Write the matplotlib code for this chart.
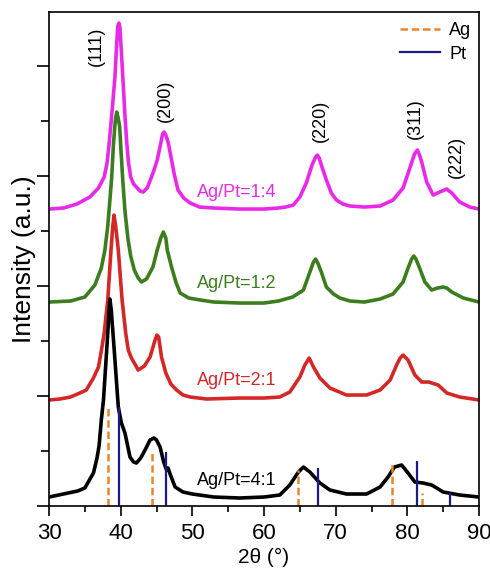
import matplotlib

matplotlib.use("Agg")
import matplotlib.pyplot as plt
from matplotlib.lines import Line2D
from matplotlib.ticker import MultipleLocator

plt.rcParams["font.family"] = ["Liberation Sans", "DejaVu Sans"]

# stacked XRD patterns, intensity in a.u. (offsets included)
x_14 = [30.0, 32.0, 33.9, 35.7, 36.9, 37.7, 38.1, 38.4, 38.8, 39.2, 39.45, 39.6, 39.75,
        39.9, 40.05, 40.3, 40.6, 40.85, 41.1, 41.4, 41.8, 42.2, 42.7, 43.15, 43.7, 44.3,
        44.7, 45.1, 45.6, 45.85, 46.05, 46.3, 46.65, 47.1, 47.5, 48.0, 48.8, 49.7, 51.0,
        53.0, 56.6, 60.0, 62.0, 63.0, 64.1, 65.0, 65.9, 66.7, 67.2, 67.45, 67.7, 68.0,
        68.7, 69.4, 70.1, 71.0, 72.0, 74.0, 76.2, 78.0, 79.4, 80.35, 81.0, 81.4, 81.7,
        82.0, 82.7, 83.6, 84.5, 85.5, 86.2, 87.3, 88.7, 90.0]
y_14 = [297, 298, 302, 309, 318, 329, 343, 363, 395, 429, 463, 480, 483,
        478, 460, 429, 390, 363, 343, 329, 322, 319, 315, 314, 318, 329,
        337, 346, 363, 372, 374, 371, 363, 346, 331, 316, 308, 303, 299,
        298, 297, 297, 298, 299, 301, 309, 323, 341, 349, 351, 348, 341,
        326, 313, 306, 302, 300, 299, 300, 306, 318, 338, 352, 356, 351,
        344, 324, 311, 314, 317, 313, 304, 299, 297]

x_12 = [30.0, 33.0, 35.0, 36.4, 37.3, 37.8, 38.2, 38.5, 38.75, 39.0, 39.25, 39.45, 39.65,
        39.85, 40.05, 40.3, 40.6, 41.0, 41.4, 41.9, 42.45, 42.9, 43.6, 44.5, 45.1, 45.6,
        45.95, 46.3, 46.5, 47.1, 47.7, 48.3, 49.5, 51.1, 53.0, 56.6, 60.0, 62.0, 64.0,
        65.5, 66.4, 66.9, 67.2, 67.5, 68.0, 68.7, 69.7, 70.6, 72.0, 74.0, 76.2, 78.0,
        79.4, 80.1, 80.6, 80.9, 81.2, 81.65, 82.45, 83.4, 84.2, 85.0, 85.5, 86.2, 87.8,
        90.0]
y_12 = [204, 205, 209, 221, 238, 256, 280, 306, 329, 363, 385, 394, 388,
        380, 355, 325, 295, 268, 250, 236, 228, 224, 227, 239, 256, 268,
        274, 268, 256, 239, 224, 213, 208, 206, 204, 203, 203, 205, 209,
        216, 234, 244, 247, 243, 234, 219, 212, 208, 205, 204, 207, 212,
        224, 238, 247, 250, 247, 239, 224, 216, 218, 219, 218, 214, 208,
        204]

x_21 = [30.0, 31.5, 33.0, 34.3, 35.2, 36.2, 36.9, 37.3, 37.7, 38.2, 38.65, 38.9, 39.07,
        39.3, 39.67, 40.2, 40.7, 41.06, 41.5, 41.9, 42.45, 43.3, 44.1, 44.8, 45.05, 45.3,
        45.7, 46.3, 47.0, 47.8, 48.7, 49.7, 52.0, 56.6, 60.0, 62.2, 63.6, 65.0, 65.7,
        66.3, 66.9, 67.8, 69.2, 71.5, 74.3, 76.2, 77.6, 78.5, 79.0, 79.4, 80.1, 81.05,
        82.0, 83.0, 83.4, 84.3, 85.5, 87.3, 90.0]
y_21 = [106, 107, 109, 113, 116, 128, 139, 155, 173, 206, 256, 280, 291,
        280, 256, 206, 173, 156, 148, 143, 136, 140, 149, 166, 171, 169,
        149, 133, 122, 116, 111, 109, 107, 108, 108, 109, 114, 129, 141,
        148, 139, 128, 118, 111, 111, 116, 126, 141, 148, 151, 146, 131,
        124, 124, 123, 121, 113, 109, 106]

x_41 = [30.0, 32.0, 34.0, 35.0, 36.2, 36.7, 37.0, 37.3, 37.6, 38.05, 38.3, 38.5, 38.7,
        39.1, 39.67, 40.1, 40.6, 41.3, 41.8, 42.2, 42.8, 43.4, 44.1, 44.65, 45.0, 45.5,
        46.0, 46.4, 46.6, 47.0, 47.6, 48.7, 50.0, 53.0, 56.6, 60.0, 62.2, 63.6, 64.8,
        65.5, 66.4, 67.8, 69.2, 71.5, 74.3, 76.2, 77.3, 78.2, 79.2, 80.1, 81.05, 82.2,
        83.4, 85.0, 87.3, 90.0]
y_41 = [9, 12, 15, 18, 33, 48, 61, 86, 106, 156, 185, 207, 195,
        156, 99, 83, 73, 49, 44, 43, 48, 56, 66, 68, 66, 59,
        44, 36, 38, 30, 19, 14, 12, 9, 8, 9, 11, 21, 34,
        39, 34, 23, 16, 12, 12, 19, 29, 39, 41, 33, 24, 23,
        21, 14, 11, 9]

# reference lines
ag_pos = [38.2, 44.4, 64.8, 77.9, 82.1]
ag_h = [100, 53, 36, 43, 13]
pt_pos = [39.7, 46.3, 67.6, 81.35, 85.9]
pt_h = [99, 54, 38, 45, 13]

hkl = ["(111)", "(200)", "(220)", "(311)", "(222)"]
hkl_x = [36.55, 46.2, 67.8, 81.05, 86.9]
hkl_y = [460, 405, 385, 387, 349]

names = ["Ag/Pt=1:4", "Ag/Pt=1:2", "Ag/Pt=2:1", "Ag/Pt=4:1"]
name_y = [314, 223, 126, 26]
colors = ["#E82AE8", "#3C7D1E", "#D42828", "#000000"]
AG_C = "#E8862D"
PT_C = "#1B1B85"

fig = plt.figure(figsize=(4.9, 5.73), dpi=100)
ax = fig.add_axes([0.1, 0.1169, 0.8776, 0.8621])

for xs, ys, c in zip([x_14, x_12, x_21, x_41], [y_14, y_12, y_21, y_41], colors):
    ax.plot(xs, ys, color=c, lw=2.6, solid_joinstyle="round")

ax.vlines(ag_pos, 0, ag_h, colors=AG_C, lw=1.8, linestyles=(0, (3, 1.5)))
ax.vlines(pt_pos, 0, pt_h, colors=PT_C, lw=1.6)

for t, x, y in zip(hkl, hkl_x, hkl_y):
    ax.text(x, y, t, rotation=90, ha="center", va="center", fontsize=13)

for t, y, c in zip(names, name_y, colors):
    ax.text(50.6, y, t, color=c, ha="left", va="center", fontsize=13)

handles = [Line2D([], [], color=AG_C, lw=1.8, linestyle=(0, (3, 1.5))),
           Line2D([], [], color=PT_C, lw=1.6)]
ax.legend(handles, ["Ag", "Pt"], loc="upper right", frameon=False, fontsize=13,
          handlelength=2.2, handletextpad=0.5, labelspacing=0.35,
          bbox_to_anchor=(1.02, 1.012))

ax.set_xlim(30, 90)
ax.set_ylim(0, 494)
ax.xaxis.set_major_locator(MultipleLocator(10))
ax.xaxis.set_minor_locator(MultipleLocator(5))
ax.yaxis.set_major_locator(MultipleLocator(110))
ax.yaxis.set_minor_locator(MultipleLocator(55))
ax.tick_params(axis="x", which="major", direction="out", length=7, width=1.2,
               labelsize=16, pad=5)
ax.tick_params(axis="x", which="minor", direction="out", length=4, width=1.2)
ax.tick_params(axis="y", which="major", direction="out", length=9, width=1.2,
               labelleft=False)
ax.tick_params(axis="y", which="minor", direction="out", length=6, width=1.2)
for s in ax.spines.values():
    s.set_linewidth(1.2)

ax.set_xlabel("2θ (°)", fontsize=15, labelpad=3)
ax.set_ylabel("Intensity (a.u.)", fontsize=19, labelpad=0)

fig.savefig("out.png", dpi=100)
